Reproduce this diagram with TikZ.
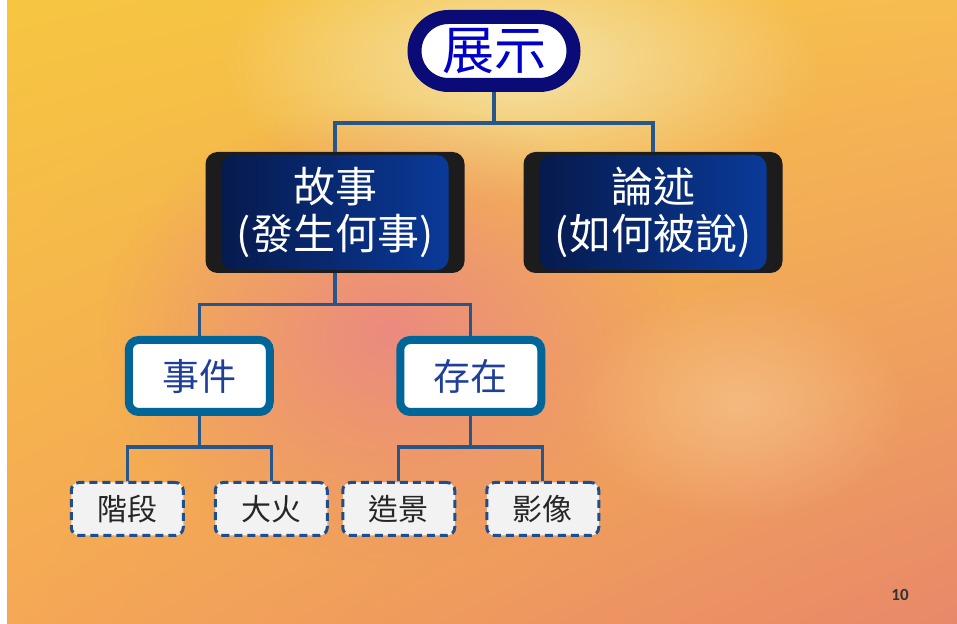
\documentclass[tikz,border=0pt]{standalone}
\usepackage{fontspec}
\setmainfont{Noto Sans CJK TC}
\newfontfamily\numfont{Carlito}
\usetikzlibrary{trees,fadings,shadings}

\definecolor{pillnavy}{HTML}{0B0B78}
\definecolor{pilltext}{HTML}{0000C8}
\definecolor{navyD}{HTML}{061848}
\definecolor{navyL}{HTML}{0A3C9E}
\definecolor{capblack}{HTML}{1C1C1C}
\definecolor{midblue}{HTML}{006699}
\definecolor{midtext}{HTML}{1F3F99}
\definecolor{leafblue}{HTML}{1F4E8C}
\definecolor{leaffill}{HTML}{F2F2F2}
\definecolor{linkblue}{HTML}{26568A}
\definecolor{bgUL}{HTML}{F6C640}
\definecolor{bgUR}{HTML}{F7BC50}
\definecolor{bgLL}{HTML}{F5A855}
\definecolor{bgLR}{HTML}{E8886A}
\definecolor{paleblob}{HTML}{F4E4A8}
\definecolor{pinkblob}{HTML}{EB8A80}
\definecolor{lightblob}{HTML}{F7C48E}

\tikzfading[name=blob, inner color=transparent!0, outer color=transparent!100]

\begin{document}
\begin{tikzpicture}[
	align=center,
	showpill/.style={draw=pillnavy, line width=14pt, fill=white, rounded corners=34pt,
		minimum width=159pt, minimum height=68pt, text=pilltext,
		font=\fontsize{52}{60}\selectfont},
	darkbox/.style={fill=capblack, rounded corners=12pt, minimum width=259pt,
		minimum height=121pt, text=white, font=\fontsize{42}{47}\selectfont,
		path picture={\shade[left color=navyD, right color=navyL]
			([xshift=16pt,yshift=-3pt]path picture bounding box.north west) rectangle
			([xshift=-16pt,yshift=3pt]path picture bounding box.south east);}},
	midbox/.style={draw=midblue, line width=8pt, fill=white, rounded corners=10pt,
		minimum width=141pt, minimum height=72pt, text=midtext,
		font=\fontsize{37}{42}\selectfont},
	leafbox/.style={draw=leafblue, line width=3pt, dash pattern=on 8pt off 5pt,
		fill=leaffill, rounded corners=8pt, minimum width=112pt, minimum height=53pt,
		text=black!85, font=\fontsize{30}{34}\selectfont},
	edge from parent/.style={draw=linkblue, line width=3.2pt},
	edge from parent path={(\tikzparentnode.south) -- +(0,-31pt) -| (\tikzchildnode.north)},
	level 1/.style={level distance=161.5pt, sibling distance=318pt},
	level 2/.style={level distance=163.5pt, sibling distance=271.5pt},
	level 3/.style={level distance=133pt, sibling distance=144pt}
]
	% background
	\useasboundingbox (0,0) rectangle (957pt,623pt);
	\fill[white] (0,0) rectangle (957pt,623pt);
	\shade[upper left=bgUL, upper right=bgUR, lower left=bgLL, lower right=bgLR]
		(7pt,0) rectangle (957pt,623pt);
	\fill[paleblob, path fading=blob] (520pt,560pt) ellipse (300pt and 140pt);
	\fill[pinkblob, path fading=blob] (390pt,290pt) ellipse (290pt and 230pt);
	\fill[lightblob, path fading=blob, opacity=.7] (740pt,220pt) ellipse (170pt and 120pt);

	\node[showpill] (show) at (494pt,572pt) {展示}  % root {
		child { node[darkbox] (story) {故事\\(發生何事)}
			child { node[midbox] (event) {事件}
				child {node[leafbox] (stage) {階段}}
				child {node[leafbox] (fire) {大火}}
			}
			child { node[midbox] (exist) {存在}
				child {node[leafbox] (scene) {造景}}
				child {node[leafbox] (image) {影像}}
			}
		}
		child { node[darkbox] (narr) {論述\\(如何被說)} }
	;

	\node[font=\numfont\bfseries\fontsize{17}{20}\selectfont, text=black!80] (pagenum) at (900pt,28pt) {10};
\end{tikzpicture}
\end{document}
